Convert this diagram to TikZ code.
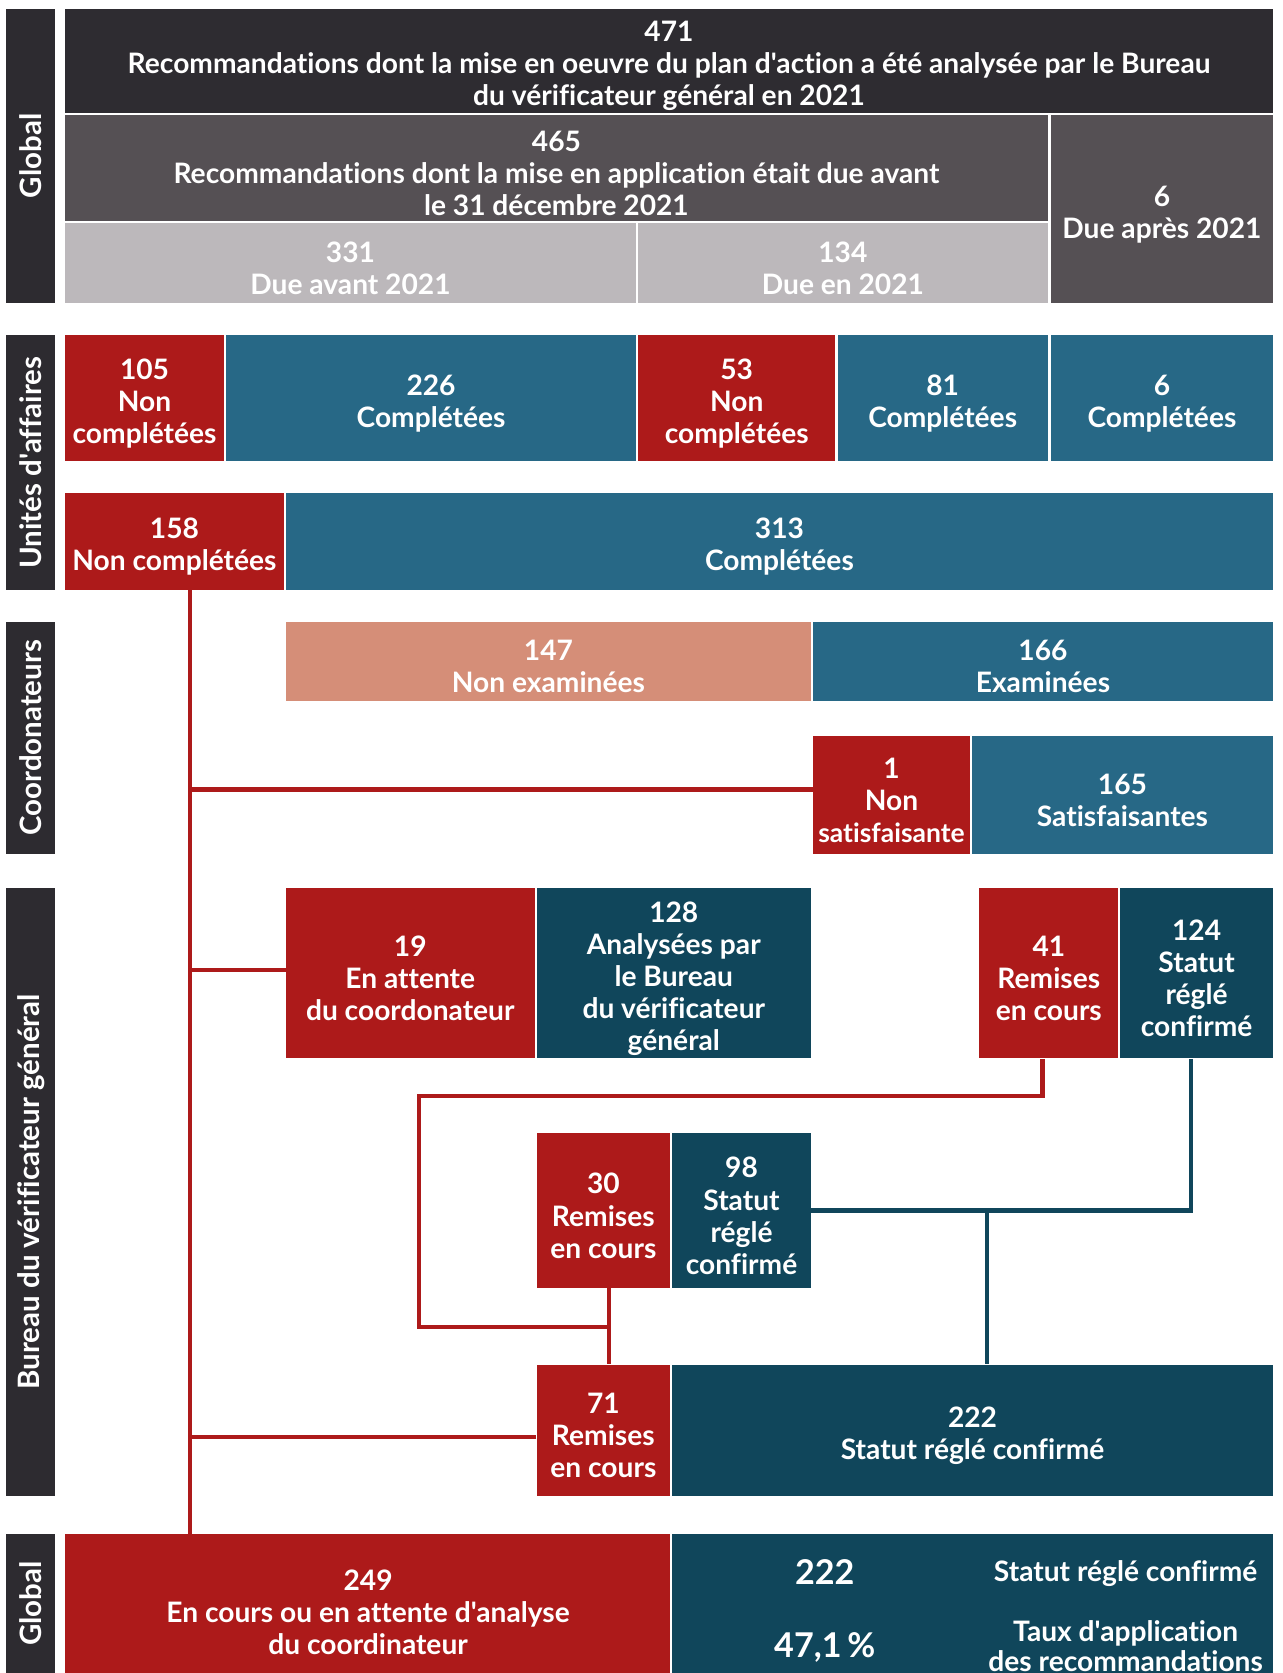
\documentclass[tikz,border=0pt]{standalone}
\usepackage{fontspec}
\setmainfont{Lato}[Ligatures={TeXOff,CommonOff}]
\usetikzlibrary{fit}
\definecolor{cred}{HTML}{AD1A1A}
\definecolor{cblue}{HTML}{276886}
\definecolor{cteal}{HTML}{10465B}
\definecolor{csalmon}{HTML}{D58E78}
\definecolor{cdark}{HTML}{2E2C31}
\definecolor{cmid}{HTML}{555054}
\definecolor{clight}{HTML}{BCB8BB}
\definecolor{cside}{HTML}{2D2B30}
\pgfdeclarelayer{bg}
\pgfsetlayers{bg,main}
% #1 name, #2 fill, #3-#6 corners, #7 text
\newcommand\mybox[7]{%
  \begin{pgfonlayer}{bg}
  \node[boxfill, fill=#2, fit={(#3,#4)(#5,#6)}] (#1) {};
  \end{pgfonlayer}
  \node[boxtext] (#1t) at ([yshift=-2.5pt]#1.center) {#7};}
\begin{document}
\begin{tikzpicture}[x=0.5pt,y=-0.5pt,
  boxfill/.style={inner sep=0pt, draw=none},
  boxtext/.style={inner sep=0pt, text=white, align=center,
    font=\bfseries\fontsize{13.2}{15}\selectfont},
  side/.style={inner sep=0pt, draw=none, fill=cside},
  sidetext/.style={rotate=90, text=white, font=\bfseries\fontsize{13.8}{15}\selectfont},
  rl/.style={draw=cred, line width=2pt},
  tl/.style={draw=cteal, line width=2pt},
  big/.style={text=white, font=\bfseries\fontsize{16}{18}\selectfont},
  btxt/.style={text=white, align=center, font=\bfseries\fontsize{13.2}{14}\selectfont}]
\useasboundingbox (0,0) rectangle (1202,1568);
% side bars
\node[side, fit={(6,8)(52,284)}] (s1) {};
\node[sidetext] (s1t) at (s1.center) {Global};
\node[side, fit={(6,314)(52,553)}] (s2) {};
\node[sidetext] (s2t) at (s2.center) {Unités d'affaires};
\node[side, fit={(6,583)(52,800)}] (s3) {};
\node[sidetext] (s3t) at (s3.center) {Coordonateurs};
\node[side, fit={(6,832)(52,1402)}] (s4) {};
\node[sidetext] (s4t) at (s4.center) {Bureau du vérificateur général};
\node[side, fit={(6,1438)(52,1568)}] (s5) {};
\node[sidetext] (s5t) at (s5.center) {Global};
% global top
\mybox{n471}{cdark}{61}{8}{1193}{106}{471\\Recommandations dont la mise en oeuvre du plan d'action a été analysée par le Bureau\\du vérificateur général en 2021}
\mybox{n465}{cmid}{61}{108}{982}{207}{465\\Recommandations dont la mise en application était due avant\\le 31 décembre 2021}
\mybox{n6a}{cmid}{985}{108}{1193}{284}{6\\Due après 2021}
\mybox{n331}{clight}{61}{209}{596}{284}{331\\Due avant 2021}
\mybox{n134}{clight}{598}{209}{982}{284}{134\\Due en 2021}
% unites
\mybox{n105}{cred}{61}{314}{210}{432}{105\\Non\\complétées}
\mybox{n226}{cblue}{212}{314}{596}{432}{226\\Complétées}
\mybox{n53}{cred}{598}{314}{783}{432}{53\\Non\\complétées}
\mybox{n81}{cblue}{785}{314}{982}{432}{81\\Complétées}
\mybox{n6b}{cblue}{985}{314}{1193}{432}{6\\Complétées}
\mybox{n158}{cred}{61}{462}{266}{553}{158\\Non complétées}
\mybox{n313}{cblue}{268}{462}{1193}{553}{313\\Complétées}
% coordonateurs
\mybox{n147}{csalmon}{268}{583}{760}{657}{147\\Non examinées}
\mybox{n166}{cblue}{762}{583}{1193}{657}{166\\Examinées}
\mybox{n1}{cred}{762}{690}{909}{800}{1\\Non\\{\fontsize{12.4}{15}\selectfont satisfaisante}}
\mybox{n165}{cblue}{911}{690}{1193}{800}{165\\Satisfaisantes}
% bureau
\mybox{n19}{cred}{268}{832}{501}{992}{19\\En attente\\du coordonateur}
\mybox{n128}{cteal}{503}{832}{760}{992}{128\\Analysées par\\le Bureau\\du vérificateur\\général}
\mybox{n41}{cred}{918}{832}{1048}{992}{41\\Remises\\en cours}
\mybox{n124}{cteal}{1050}{832}{1193}{992}{124\\Statut\\réglé\\confirmé}
\mybox{n30}{cred}{503}{1062}{628}{1207}{30\\Remises\\en cours}
\mybox{n98}{cteal}{630}{1062}{760}{1207}{98\\Statut\\réglé\\confirmé}
\mybox{n71}{cred}{503}{1279}{628}{1402}{71\\Remises\\en cours}
\mybox{n222}{cteal}{630}{1279}{1193}{1402}{222\\Statut réglé confirmé}
% global bottom
\node[boxfill, fill=cred, fit={(61,1438)(628,1568)}] (n249) {};
\node[btxt, font=\bfseries\fontsize{13.2}{15}\selectfont] (t249) at (345,1511) {249\\En cours ou en attente d'analyse\\du coordinateur};
\node[boxfill, fill=cteal, fit={(630,1438)(1193,1568)}] (nfin) {};
\node[big] (f222) at (773,1473) {222};
\node[big] (f471) at (773,1544) {47,1\,\%};
\node[btxt] (fst) at (1055,1475) {Statut réglé confirmé};
\node[btxt] (ftx) at (1055,1543) {Taux d'application\\des recommandations};
% connectors
\coordinate (trunk) at (178,0);
\coordinate (r1) at (393,1027);
\coordinate (r2) at (393,1244);
\coordinate (tj) at (925,1136);
\coordinate (c41) at (977,0);
\coordinate (c30) at (571,0);
\coordinate (c124) at (1116,0);
\draw[rl] (n158.south -| trunk) -- (n249.north -| trunk);
\draw[rl] ([yshift=2.5pt]n1.west) -- ([yshift=2.5pt]n1.west -| trunk);
\draw[rl] ([yshift=1.5pt]n19.west) -- ([yshift=1.5pt]n19.west -| trunk);
\draw[rl] ([yshift=-3pt]n71.west) -- ([yshift=-3pt]n71.west -| trunk);
\draw[rl] (n41.south -| c41) |- (r1) -- (r2) -- (r2 -| c30);
\draw[rl] (n30.south -| c30) -- (n71.north -| c30);
\draw[tl] (n124.south -| c124) |- (n98.east);
\draw[tl] (tj) -- (n222.north -| tj);
\end{tikzpicture}
\end{document}
